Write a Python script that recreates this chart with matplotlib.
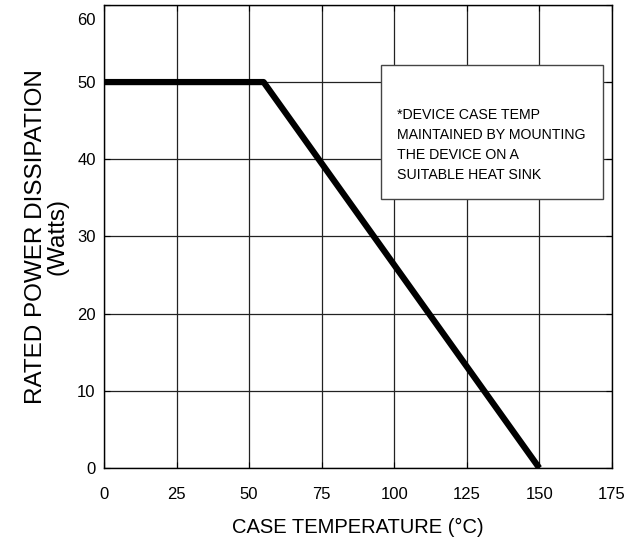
import matplotlib
matplotlib.use('Agg')
import matplotlib.pyplot as plt
import matplotlib.transforms as mtransforms

plt.rcParams['font.family'] = ['Liberation Sans', 'DejaVu Sans']

# derating curve
temp = [0, 55, 150]
power = [50, 50, 0]

xticks = [0, 25, 50, 75, 100, 125, 150, 175]
yticks = [0, 10, 20, 30, 40, 50, 60]

note = "*DEVICE CASE TEMP\nMAINTAINED BY MOUNTING\nTHE DEVICE ON A\nSUITABLE HEAT SINK"

fig = plt.figure(figsize=(6.34, 5.42), dpi=100)
ax = fig.add_axes([0.164, 0.1365, 0.801, 0.8545])

ax.plot(temp, power, color='black', lw=4.5, solid_capstyle='butt', zorder=3)

ax.set_xlim(0, 175)
ax.set_ylim(0, 60)
ax.set_xticks(xticks)
ax.set_yticks(yticks)
ax.grid(True, color='#222222', lw=0.9)
ax.tick_params(direction='in', length=4, labelsize=12, top=True, right=True)
ax.tick_params(axis='x', pad=14)
ax.tick_params(axis='y', pad=6)
for s in ax.spines.values():
    s.set_linewidth(1.0)

# top label sits a bit below the frame in the original
lbl = ax.get_yticklabels()[-1]
lbl.set_transform(lbl.get_transform() + mtransforms.ScaledTranslation(0, -14 / 100, fig.dpi_scale_trans))

ax.set_xlabel('CASE TEMPERATURE (°C)', fontsize=14.5, labelpad=11)
ax.set_ylabel('RATED POWER DISSIPATION\n(Watts)', fontsize=17.5, labelpad=6, linespacing=1.0)

# note box
ax.fill([95.5, 172, 172, 95.5], [34.8, 34.8, 52.2, 52.2], facecolor='white',
        edgecolor='#444444', lw=1.0, zorder=4)
ax.text(101, 41.8, note, fontsize=10.2, va='center', ha='left',
        linespacing=1.55, zorder=5)

fig.savefig('out.png', dpi=100)
